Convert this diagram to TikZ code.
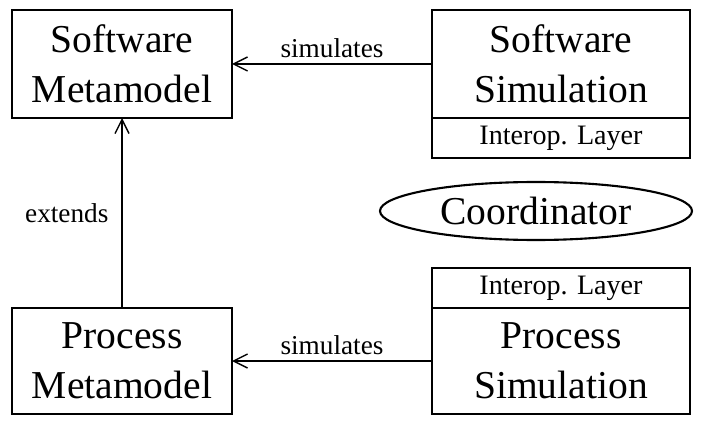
\documentclass[tikz,border=0pt]{standalone}
\usepackage{fontspec}
\setmainfont{Liberation Serif}
\usetikzlibrary{arrows.meta,shapes.geometric}
\tikzset{
  bigbox/.style={draw,line width=1.6pt,outer sep=0pt,minimum width=#1,minimum height=2.16cm,inner sep=0pt,align=center,font=\fontsize{22.5}{28.5}\selectfont},
  layerbox/.style={draw,line width=1.6pt,outer sep=0pt,minimum width=5.16cm,minimum height=0.8cm,inner sep=0pt,font=\fontsize{16}{18}\selectfont},
  rel/.style={line width=0.8pt,-{Straight Barb[length=2.8mm,width=2.8mm]}},
  rellabel/.style={font=\fontsize{15.5}{18}\selectfont}
}
\begin{document}
\begin{tikzpicture}
        \useasboundingbox (0,0) rectangle (14.02,8.48);
        % boxes
        \node [bigbox=4.4cm] (swmeta) at (2.44,7.2) {Software\\Metamodel};
        \node [bigbox=5.16cm] (swsim) at (11.22,7.2) {Software\\Simulation};
        \node [layerbox,anchor=north] (swlayer) at (swsim.south) {Interop. Layer};
        \node [bigbox=4.4cm,minimum height=2.12cm] (prmeta) at (2.44,1.26) {Process\\Metamodel};
        \node [bigbox=5.16cm,minimum height=2.12cm] (prsim) at (11.22,1.26) {Process\\Simulation};
        \node [layerbox,anchor=south] (prlayer) at (prsim.north) {Interop. Layer};
        % ellipse
        \node [draw,ellipse,line width=1.2pt,minimum width=6.24cm,minimum height=1.16cm,inner sep=0pt,font=\fontsize{22.5}{25}\selectfont] (coord) at (10.72,4.26) {Coordinator};
        % arrows
        \draw [rel] (swsim.west) -- node [above,rellabel] {simulates} (swmeta.east);
        \draw [rel] (prsim.west) -- node [above,rellabel] {simulates} (prmeta.east);
        \draw [rel] (prmeta.north) -- node [left,rellabel,xshift=-4pt] {extends} (swmeta.south);
    \end{tikzpicture}
\end{document}
